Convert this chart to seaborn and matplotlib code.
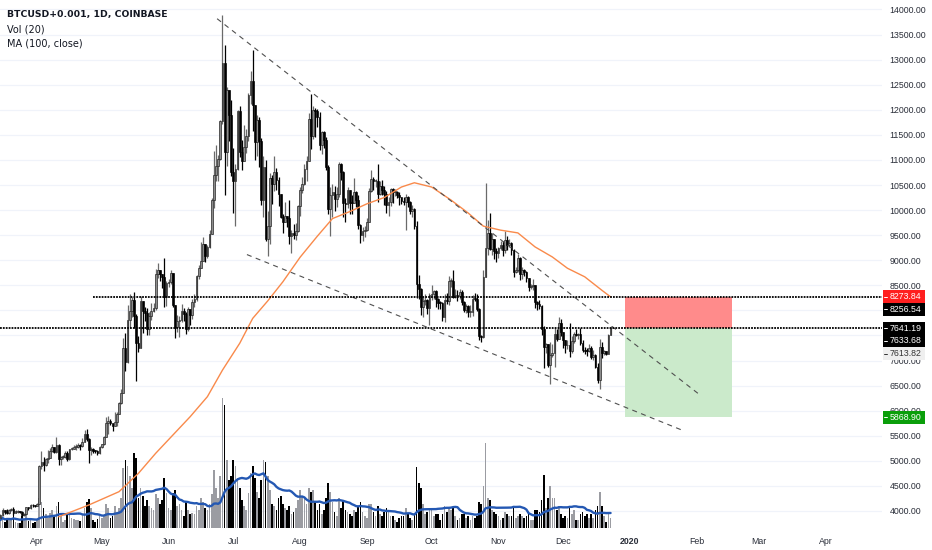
import numpy as np
import pandas as pd
import matplotlib
matplotlib.use("Agg")
import matplotlib.pyplot as plt
import matplotlib.dates as mdates
from matplotlib.patches import Rectangle
from matplotlib.lines import Line2D
import seaborn as sns

# ------------------------------------------------------------------ data
START = "2019-03-15"
FIRST_OPEN = 3870

close_mar = [3920, 4010, 3980, 3970, 4010, 4040, 3970, 3990, 4000, 3990, 3920, 3940, 4070, 4050, 4120, 4110, 4100]
high_mar = [3935, 4060, 4010, 4040, 4030, 4060, 4070, 4010, 4010, 4000, 4000, 3960, 4080, 4080, 4140, 4140, 4120]
low_mar = [3860, 3910, 3950, 3950, 3950, 3990, 3930, 3960, 3970, 3960, 3880, 3900, 3930, 4020, 4040, 4080, 4080]

close_apr = [4140, 4890, 4970, 4910, 5030, 5050, 5190, 5280, 5180, 5320, 5040, 5070, 5080, 5160, 5030,
             5230, 5240, 5280, 5280, 5320, 5290, 5380, 5540, 5440, 5210, 5240, 5200, 5190, 5150, 5270]
high_apr = [4150, 4920, 5200, 5070, 5060, 5220, 5260, 5340, 5280, 5470, 5330, 5100, 5120, 5190, 5190,
            5240, 5280, 5310, 5340, 5350, 5330, 5450, 5620, 5640, 5460, 5280, 5250, 5210, 5210, 5290]
low_apr = [4090, 4140, 4830, 4800, 4900, 4960, 5050, 5170, 5150, 5160, 4920, 4920, 5040, 5050, 4990,
           5020, 5210, 5230, 5210, 5260, 5210, 5270, 5370, 5400, 4950, 5110, 5160, 5150, 5110, 5140]

close_may = [5330, 5480, 5760, 5800, 5750, 5690, 5780, 5940, 6150, 6350, 7250, 6970, 7810, 7980, 8200, 7880,
             7350, 7260, 8190, 7990, 7950, 7620, 7880, 7990, 8050, 8730, 8800, 8720, 8660, 8270, 8550]
high_may = [5340, 5500, 5880, 5900, 5830, 5750, 5980, 5980, 6180, 6430, 7450, 7550, 8100, 8320, 8260, 8370,
            7920, 7480, 8280, 8190, 8060, 8040, 7960, 8140, 8150, 8820, 8940, 8800, 8720, 9050, 8590]
low_may = [5260, 5320, 5470, 5540, 5710, 5600, 5690, 5700, 5940, 6130, 6350, 6800, 6950, 7650, 7860, 7650,
           6600, 7170, 7250, 7550, 7790, 7510, 7500, 7810, 7960, 8000, 8640, 8580, 8450, 8060, 8080]

close_jun = [8560, 8740, 8100, 7660, 7790, 7800, 7990, 7920, 7630, 8020, 7900, 8170, 8230, 8690, 8850,
             8990, 9320, 9080, 9270, 9530, 10200, 10700, 10870, 11010, 11770, 12930, 11160, 12400, 11890, 10750]
high_jun = [8620, 8800, 8740, 8110, 7910, 7880, 8120, 8050, 7960, 8070, 8020, 8230, 8320, 8700, 8900,
            9370, 9460, 9330, 9310, 9600, 10240, 11180, 11300, 11100, 11800, 13880, 13300, 12450, 12400, 12200]
low_jun = [8470, 8530, 8060, 7450, 7560, 7460, 7760, 7780, 7530, 7580, 7710, 7830, 8060, 8180, 8620,
           8850, 8980, 8960, 9050, 9240, 9520, 10050, 10570, 10580, 11000, 11720, 10300, 10880, 11380, 10680]

close_jul = [10580, 10820, 11980, 11150, 10980, 11250, 11480, 12290, 12580, 12100, 11350, 11800, 11380, 10200, 10850,
             9430, 9690, 10640, 10530, 10760, 10590, 10330, 9860, 9770, 9880, 9850, 9480, 9540, 9500, 9590, 10090]
high_jul = [11230, 10920, 12000, 12080, 11400, 11700, 11620, 12340, 12780, 13200, 12100, 11900, 11850, 11440, 11080,
            11000, 9980, 10740, 10700, 11080, 10840, 10650, 10330, 9930, 10170, 9880, 10200, 9610, 9720, 9740, 10110]
low_jul = [9950, 9680, 10800, 11060, 10800, 10990, 11130, 11370, 12110, 11580, 11000, 11080, 10850, 10100, 9870,
           9380, 9080, 9320, 10120, 10380, 10400, 10080, 9840, 9550, 9780, 9660, 9330, 9150, 9420, 9410, 9570]

close_aug = [10400, 10530, 10820, 10980, 11810, 11470, 11990, 11980, 11860, 11290, 11560, 11390, 10860, 10020, 10300,
             10360, 10230, 10320, 10920, 10760, 10140, 10130, 10400, 10150, 10140, 10370, 10200, 9710, 9500, 9580, 9600]
high_aug = [10460, 10660, 10920, 11080, 11940, 12320, 12070, 12040, 12020, 11960, 11580, 11570, 11460, 10890, 10470,
            10530, 10480, 10470, 10950, 10940, 10780, 10240, 10460, 10400, 10300, 10630, 10390, 10300, 9720, 9670, 9680]
low_aug = [9890, 10340, 10500, 10580, 10980, 11220, 11410, 11450, 11660, 11190, 11120, 11230, 10790, 9930, 9480,
           9860, 9990, 10070, 10270, 10600, 9860, 9770, 10050, 9920, 9930, 10150, 10060, 9630, 9350, 9380, 9460]

close_sep = [9770, 10390, 10620, 10580, 10580, 10320, 10490, 10410, 10320, 10100, 10160, 10420, 10360, 10360, 10310,
             10260, 10180, 10160, 10270, 10170, 9980, 10030, 9690, 8530, 8430, 8060, 8190, 8210, 8050, 8300]
high_sep = [9850, 10440, 10790, 10660, 10620, 10920, 10580, 10590, 10490, 10390, 10270, 10450, 10450, 10430, 10390,
            10360, 10270, 10270, 10320, 10290, 10180, 10110, 10050, 9790, 8700, 8450, 8270, 8330, 8220, 8340]
low_sep = [9580, 9770, 10370, 10410, 10470, 10170, 10310, 10300, 10100, 9950, 9880, 10080, 10150, 10280, 10250,
           10100, 10130, 10100, 9600, 10070, 9920, 9870, 9620, 8240, 8230, 7900, 7860, 8100, 7930, 7710]

close_oct = [8330, 8390, 8230, 8150, 8140, 7870, 8210, 8180, 8590, 8590, 8260, 8300, 8280, 8370, 8160,
             8000, 8080, 7960, 7960, 8230, 8220, 8030, 7480, 7470, 8670, 9250, 9550, 9220, 9430, 9180, 9150]
high_oct = [8500, 8400, 8400, 8240, 8180, 8170, 8320, 8350, 8680, 8650, 8800, 8420, 8410, 8420, 8400,
            8190, 8130, 8110, 8100, 8310, 8340, 8320, 8040, 7500, 8800, 10540, 9810, 9950, 9550, 9430, 9240]
low_oct = [8210, 8230, 8060, 8020, 8030, 7790, 7770, 8120, 8110, 8460, 8250, 8250, 8180, 8220, 8100,
           7960, 7940, 7860, 7870, 7880, 8180, 7990, 7400, 7360, 7450, 8660, 9100, 9200, 9100, 9030, 8970]

close_nov = [9250, 9310, 9200, 9410, 9310, 9340, 9210, 8770, 8810, 9040, 8730, 8810, 8760, 8640, 8460,
             8490, 8500, 8170, 8120, 8080, 7620, 7280, 7330, 6910, 7110, 7160, 7520, 7430, 7740, 7570]
high_nov = [9260, 9380, 9380, 9580, 9480, 9430, 9370, 9230, 8860, 9120, 9070, 8870, 8830, 8790, 8650,
            8520, 8620, 8500, 8190, 8200, 8110, 7690, 7350, 7330, 7360, 7320, 7660, 7630, 7870, 7820]
low_nov = [9050, 9210, 9080, 9150, 9200, 9270, 9100, 8660, 8740, 8760, 8600, 8620, 8690, 8560, 8380,
           8430, 8400, 8040, 8000, 8030, 7500, 6850, 7160, 6880, 6530, 7070, 6870, 7380, 7420, 7490]

close_dec = [7400, 7300, 7300, 7200, 7390, 7530, 7500, 7520, 7340, 7220, 7200, 7190, 7250, 7070, 7110,
             6880, 6620, 7280, 7150, 7190, 7140, 7510, 7641]
high_dec = [7570, 7410, 7410, 7750, 7490, 7560, 7620, 7550, 7640, 7400, 7270, 7250, 7320, 7280, 7210,
            7130, 6950, 7430, 7370, 7220, 7180, 7520, 7690]
low_dec = [7250, 7160, 7240, 7080, 7160, 7350, 7490, 7430, 7310, 7170, 7130, 7090, 7180, 7030, 7020,
           6860, 6560, 6440, 7050, 7120, 7110, 7130, 7500]

# daily volume (relative units)
vol_mar = [8, 12, 6, 10, 9, 8, 14, 6, 5, 5, 12, 8, 14, 7, 9, 5, 6]
vol_apr = [8, 30, 26, 20, 14, 10, 15, 18, 12, 22, 26, 12, 6, 8, 13, 14, 10, 9, 8, 8, 7, 14, 20, 26, 29, 20, 8, 6, 9, 12]
vol_may = [10, 12, 24, 20, 10, 12, 22, 16, 20, 30, 60, 68, 62, 52, 40, 75, 70, 30, 40, 32, 22, 28, 22, 20, 18, 34, 30, 24, 28, 50, 35]
vol_jun = [20, 18, 35, 38, 22, 24, 18, 12, 26, 18, 14, 15, 14, 22, 18, 30, 26, 20, 18, 24, 34, 58, 40, 30, 52, 130, 123, 68, 48, 52]
vol_jul = [68, 62, 50, 40, 28, 22, 18, 35, 55, 62, 50, 36, 30, 48, 68, 66, 52, 38, 24, 22, 18, 30, 32, 24, 20, 18, 22, 14, 16, 20, 28]
vol_aug = [38, 32, 30, 24, 40, 36, 38, 26, 18, 24, 14, 18, 30, 45, 36, 26, 16, 12, 30, 20, 28, 18, 16, 14, 12, 18, 16, 22, 26, 16, 12]
vol_sep = [10, 24, 24, 16, 12, 22, 14, 12, 16, 20, 18, 12, 12, 8, 6, 10, 12, 12, 20, 14, 10, 8, 14, 61, 45, 40, 24, 14, 16, 20]
vol_oct = [18, 12, 14, 14, 8, 14, 22, 16, 20, 18, 20, 12, 8, 10, 14, 14, 10, 12, 8, 12, 10, 12, 26, 24, 42, 85, 30, 28, 18, 16, 14]
vol_nov = [12, 8, 10, 16, 14, 12, 12, 22, 10, 12, 14, 12, 10, 12, 14, 8, 8, 18, 18, 16, 28, 53, 20, 30, 42, 30, 30, 18, 22, 14]
vol_dec = [10, 12, 10, 22, 14, 18, 8, 8, 14, 16, 12, 14, 10, 14, 10, 18, 22, 36, 22, 12, 6, 14, 10]

# MA(100, close)
ma_dates = ["2019-04-11", "2019-04-25", "2019-05-09", "2019-05-18", "2019-05-26", "2019-06-03", "2019-06-11",
            "2019-06-19", "2019-06-26", "2019-07-04", "2019-07-10", "2019-07-17", "2019-07-24",
            "2019-08-01", "2019-08-09", "2019-08-16", "2019-08-24", "2019-09-01", "2019-09-09", "2019-09-17",
            "2019-09-23", "2019-10-01", "2019-10-10", "2019-10-18", "2019-10-25", "2019-11-02", "2019-11-10",
            "2019-11-18", "2019-11-26", "2019-12-03", "2019-12-11", "2019-12-19", "2019-12-23"]
ma_values = [3885, 4120, 4385, 4750, 5150, 5515, 5880, 6280, 6810, 7345, 7840, 8190, 8570,
             9060, 9480, 9830, 9970, 10125, 10250, 10460, 10545, 10460, 10200, 9940, 9680, 9600, 9545,
             9265, 9065, 8840, 8670, 8400, 8270]

# drawings
upper_trend = [("2019-06-23 12:00", 13816), ("2020-02-02 12:00", 6313)]
lower_trend = [("2019-07-07 08:00", 9113), ("2020-01-25", 5615)]
level_stop = 8273.84
level_entry = 7641.19
level_target = 5868.90
level_stop_start = "2019-04-27"
box_start, box_end = "2019-12-29 16:00", "2020-02-17 10:00"

price_labels = [(8273.84, "#ff1f1f", "white"), (8256.54, "#000000", "white"),
                (7641.19, "#000000", "white"), (7633.68, "#000000", "white"),
                (7613.82, "#efefef", "#333333"), (5868.90, "#0a9e0a", "white")]

month_ticks = ["2019-04-01", "2019-05-01", "2019-06-01", "2019-07-01", "2019-08-01", "2019-09-01", "2019-10-01",
               "2019-11-01", "2019-12-01", "2020-01-01", "2020-02-01", "2020-03-01", "2020-04-01"]
month_labels = ["Apr", "May", "Jun", "Jul", "Aug", "Sep", "Oct", "Nov", "Dec", "2020", "Feb", "Mar", "Apr"]
price_ticks = list(range(4000, 14001, 500))
hidden_price_ticks = [7500, 8000]   # covered by the price-label boxes

# ------------------------------------------------------------------ assemble
close = np.array(close_mar + close_apr + close_may + close_jun + close_jul + close_aug + close_sep + close_oct + close_nov + close_dec, float)
high = np.array(high_mar + high_apr + high_may + high_jun + high_jul + high_aug + high_sep + high_oct + high_nov + high_dec, float)
low = np.array(low_mar + low_apr + low_may + low_jun + low_jul + low_aug + low_sep + low_oct + low_nov + low_dec, float)
volume = np.array(vol_mar + vol_apr + vol_may + vol_jun + vol_jul + vol_aug + vol_sep + vol_oct + vol_nov + vol_dec, float)
assert len(close) == len(high) == len(low) == len(volume)
openp = np.concatenate([[FIRST_OPEN], close[:-1]])
high = np.maximum(high, np.maximum(openp, close))
low = np.minimum(low, np.minimum(openp, close))
dates = pd.date_range(START, periods=len(close), freq="D")
x = mdates.date2num(dates)
up = close >= openp

df = pd.DataFrame({"x": x, "vol": volume})
df["vol_ma"] = df["vol"].rolling(20, min_periods=1).mean()
ma_df = pd.DataFrame({"x": mdates.date2num(pd.to_datetime(ma_dates)), "ma": ma_values})


def dn(s):
    return mdates.date2num(pd.Timestamp(s))


# ------------------------------------------------------------------ figure
sns.set_theme(style="white")
plt.rcParams["font.family"] = ["Liberation Sans", "DejaVu Sans"]

W, H = 932, 550
PL, PR, PT, PB = 0, 882, 0, 528
fig = plt.figure(figsize=(W / 100, H / 100), dpi=100)
fig.patch.set_facecolor("white")
ax = fig.add_axes([PL / W, 1 - PB / H, (PR - PL) / W, (PB - PT) / H])
axv = ax.twinx()
ax.set_zorder(2)
axv.set_zorder(1)
ax.patch.set_visible(False)

base = dn("2019-04-01")
XMIN, XMAX = base - 17.2, base + 391.9
YMIN, YMAX = 3661, 14189
VOL_TOP = 528
ax.set_xlim(XMIN, XMAX)
ax.set_ylim(YMIN, YMAX)
axv.set_ylim(0, VOL_TOP)

for a in (ax, axv):
    for s in a.spines.values():
        s.set_visible(False)

# grid on the volume axes (behind everything)
axv.set_yticks([(p - YMIN) / (YMAX - YMIN) * VOL_TOP for p in price_ticks])
axv.grid(True, color="#f0f3fa", lw=0.9)
axv.tick_params(left=False, right=False, labelleft=False, labelright=False)

# volume bars + MA
UP_FILL, UP_EDGE, UP_WICK = "#8d8d8d", "#1a1a1a", "#6a6a6a"
DN_C = "#000000"
VUP_C = "#9b9ca2"
axv.bar(x, volume, width=0.78, color=np.where(up, VUP_C, DN_C), lw=0, zorder=2)
sns.lineplot(data=df, x="x", y="vol_ma", ax=axv, color="#2458b3", lw=1.7, zorder=3, legend=False)
axv.set_ylabel("")

# risk / reward boxes
bx0, bx1 = dn(box_start), dn(box_end)
ax.add_patch(Rectangle((bx0, level_entry), bx1 - bx0, level_stop - level_entry, color="#ff8b8b", lw=0, zorder=1))
ax.add_patch(Rectangle((bx0, level_target), bx1 - bx0, level_entry - level_target, color="#cbeacb", lw=0, zorder=1))

# candles
wick_cols = np.where(up, UP_WICK, DN_C)
ax.vlines(x, low, high, colors=wick_cols, lw=0.9, zorder=4)
body_bot = np.minimum(openp, close)
body_h = np.maximum(np.abs(close - openp), 18)
ax.bar(x, body_h, bottom=body_bot, width=0.8,
       color=np.where(up, UP_FILL, DN_C), edgecolor=np.where(up, UP_EDGE, DN_C), lw=0.45, zorder=5)

# MA 100
sns.lineplot(data=ma_df, x="x", y="ma", ax=ax, color="#f98a4b", lw=1.0, zorder=6, legend=False)

# trend lines
for line in (upper_trend, lower_trend):
    xs = [dn(p[0]) for p in line]
    ys = [p[1] for p in line]
    ax.plot(xs, ys, color="#505050", lw=0.8, ls=(0, (4.5, 4)), zorder=7)

# horizontal dotted levels
ax.plot([dn(level_stop_start), XMAX], [level_stop, level_stop], color="black", lw=1.3, ls=(0, (1.0, 0.6)), zorder=8)
ax.plot([XMIN, XMAX], [level_entry, level_entry], color="black", lw=1.3, ls=(0, (1.0, 0.6)), zorder=8)

# axes ticks
ax.set_xticks([dn(m) for m in month_ticks])
ax.set_xticklabels(month_labels)
ax.set_yticks(price_ticks)
ax.set_yticklabels(["" if p in hidden_price_ticks else f"{p:.2f}" for p in price_ticks])
ax.yaxis.tick_right()
ax.tick_params(axis="y", length=0, pad=5.3, labelsize=6.3, labelcolor="#2a2e39")
ax.tick_params(axis="x", length=0, pad=6.3, labelsize=6.3, labelcolor="#2a2e39")
for lbl in ax.get_xticklabels():
    if lbl.get_text() == "2020":
        lbl.set_fontweight("bold")
ax.set_xlabel("")
ax.set_ylabel("")


# price label boxes on the scale
def price_to_px(p):
    return PB - (p - YMIN) / (YMAX - YMIN) * (PB - PT)


BOX_H = 12.6
prev = -100
for val, bg, fg in sorted(price_labels, key=lambda t: -t[0]):
    yc = max(price_to_px(val), prev + BOX_H)
    prev = yc
    fig.patches.append(Rectangle((883 / W, 1 - (yc + BOX_H / 2) / H), 42 / W, BOX_H / H,
                                 transform=fig.transFigure, facecolor=bg, edgecolor="none", zorder=10))
    fig.lines.append(Line2D([883.5 / W, 886.5 / W], [1 - yc / H, 1 - yc / H], transform=fig.transFigure,
                            color=fg, lw=0.7, zorder=11))
    fig.text(889.5 / W, 1 - yc / H, f"{val:.2f}", color=fg, fontsize=6.3, va="center", ha="left", zorder=12)

# header
fig.text(7 / W, 1 - 14.5 / H, "BTCUSD+0.001, 1D, COINBASE", fontsize=6.7, fontweight="bold",
         family="DejaVu Sans", color="#131722", va="center", ha="left")
fig.text(7 / W, 1 - 29.5 / H, "Vol (20)", fontsize=7.0, family="DejaVu Sans", color="#131722", va="center", ha="left")
fig.text(7 / W, 1 - 43.5 / H, "MA (100, close)", fontsize=7.0, family="DejaVu Sans", color="#131722", va="center", ha="left")

fig.savefig("out.png", dpi=100, facecolor="white")
